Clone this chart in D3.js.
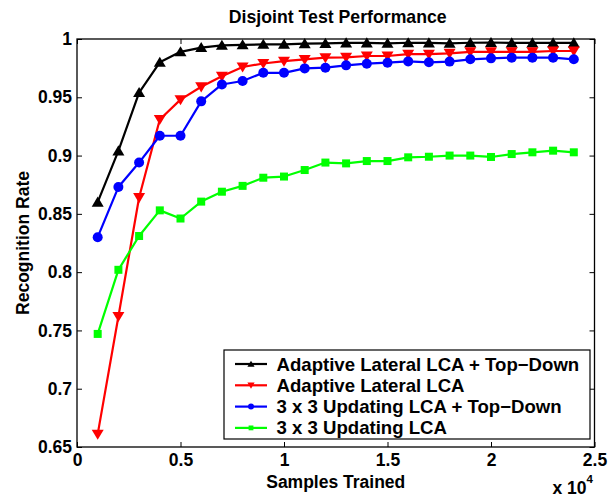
<!DOCTYPE html>
<html>
<head>
<meta charset="utf-8">
<script src="https://cdn.jsdelivr.net/npm/d3@7"></script>
<style>
  html, body { margin: 0; padding: 0; background: #fff; }
  svg { display: block; }
  text { font-family: "Liberation Sans", Arial, Helvetica, sans-serif; font-weight: bold; fill: #000; }
</style>
</head>
<body>
<svg id="chart" width="616" height="497"></svg>
<script>
// ---- data (x in units of 10^4 samples) ----
const samples = [0.1,0.2,0.3,0.4,0.5,0.6,0.7,0.8,0.9,1.0,1.1,1.2,1.3,1.4,1.5,1.6,1.7,1.8,1.9,2.0,2.1,2.2,2.3,2.4];
const lateralTopDown = [0.860,0.904,0.954,0.980,0.989,0.9926,0.9946,0.995,0.9954,0.9954,0.9960,0.9962,0.9966,0.9966,0.9963,0.9968,0.9966,0.9963,0.9968,0.9970,0.9966,0.9966,0.9968,0.9966];
const lateral = [0.661,0.762,0.864,0.931,0.948,0.959,0.968,0.976,0.979,0.981,0.9825,0.984,0.9843,0.9854,0.9854,0.987,0.987,0.9877,0.989,0.989,0.989,0.989,0.9897,0.9897];
const updTopDown = [0.830,0.873,0.894,0.917,0.917,0.9465,0.961,0.964,0.971,0.971,0.9748,0.9754,0.9774,0.9788,0.9797,0.9808,0.980,0.9806,0.9826,0.9834,0.984,0.984,0.984,0.9826];
const updating = [0.747,0.802,0.831,0.853,0.846,0.8605,0.869,0.874,0.881,0.882,0.8876,0.894,0.8933,0.8953,0.8953,0.8985,0.899,0.900,0.900,0.8988,0.9013,0.9028,0.9042,0.9028];
const seriesNames = ["Adaptive Lateral LCA + Top\u2212Down","Adaptive Lateral LCA","3 x 3 Updating LCA + Top\u2212Down","3 x 3 Updating LCA"];
const xTicks = [0,0.5,1,1.5,2,2.5];
const yTicks = [0.65,0.7,0.75,0.8,0.85,0.9,0.95,1];
const yTickLabels = ["0.65","0.7","0.75","0.8","0.85","0.9","0.95","1"];
const xTickLabels = ["0","0.5","1","1.5","2","2.5"];
const titleText = "Disjoint Test Performance";
const xLabel = "Samples Trained";
const yLabel = "Recognition Rate";

const series = [
  {name: seriesNames[0], values: lateralTopDown, color: "#000000", symbol: "triangleUp"},
  {name: seriesNames[1], values: lateral, color: "#ff0000", symbol: "triangleDown"},
  {name: seriesNames[2], values: updTopDown, color: "#0000ff", symbol: "circle"},
  {name: seriesNames[3], values: updating, color: "#00ff00", symbol: "square"}
];

const W = 616, H = 497;
const m = {left: 77, right: 21.5, top: 39, bottom: 50};
const svg = d3.select("#chart");

const x = d3.scaleLinear().domain([0, 2.5]).range([m.left, W - m.right]);
const y = d3.scaleLinear().domain([0.65, 1]).range([H - m.bottom, m.top]);

function marker(g, sym, cx, cy, color, s) {
  if (sym === "circle") {
    g.append("circle").attr("cx", cx).attr("cy", cy).attr("r", 5 * s).attr("fill", color);
  } else if (sym === "square") {
    const a = 8 * s;
    g.append("rect").attr("x", cx - a/2).attr("y", cy - a/2).attr("width", a).attr("height", a).attr("fill", color);
  } else if (sym === "triangleUp") {
    const w = 6 * s, h = 5.6 * s;
    g.append("path").attr("d", `M${cx},${cy - h}L${cx + w},${cy + h*0.8}L${cx - w},${cy + h*0.8}Z`).attr("fill", color);
  } else {
    const w = 6 * s, h = 5.6 * s;
    g.append("path").attr("d", `M${cx},${cy + h}L${cx + w},${cy - h*0.8}L${cx - w},${cy - h*0.8}Z`).attr("fill", color);
  }
}

// axes (ticks inward on all four sides)
const tickLen = 5;
const axB = svg.append("g").attr("transform", `translate(0,${H - m.bottom})`)
  .call(d3.axisBottom(x).tickValues(xTicks).tickFormat((d,i) => xTickLabels[i]).tickSizeInner(-tickLen).tickSizeOuter(0).tickPadding(7));
const axT = svg.append("g").attr("transform", `translate(0,${m.top})`)
  .call(d3.axisTop(x).tickValues(xTicks).tickFormat("").tickSizeInner(-tickLen).tickSizeOuter(0));
const axL = svg.append("g").attr("transform", `translate(${m.left},0)`)
  .call(d3.axisLeft(y).tickValues(yTicks).tickFormat((d,i) => yTickLabels[i]).tickSizeInner(-tickLen).tickSizeOuter(0).tickPadding(5));
const axR = svg.append("g").attr("transform", `translate(${W - m.right},0)`)
  .call(d3.axisRight(y).tickValues(yTicks).tickFormat("").tickSizeInner(-tickLen).tickSizeOuter(0));
[axB, axT, axL, axR].forEach(a => {
  a.select(".domain").remove();
  a.selectAll("line").attr("stroke", "#000").attr("stroke-width", 1);
  a.selectAll("text").attr("font-size", 17.5).attr("font-family", null).attr("font-weight", "bold").attr("fill", "#000");
});

// plot data
const plot = svg.append("g");
const line = d3.line().x((d, i) => x(samples[i])).y(d => y(d));
series.forEach(s => {
  plot.append("path").datum(s.values).attr("d", line).attr("fill", "none")
    .attr("stroke", s.color).attr("stroke-width", 2.2).attr("stroke-linejoin", "round");
  s.values.forEach((v, i) => marker(plot, s.symbol, x(samples[i]), y(v), s.color, 1));
});

// box
svg.append("rect").attr("x", m.left).attr("y", m.top)
  .attr("width", W - m.left - m.right).attr("height", H - m.top - m.bottom)
  .attr("fill", "none").attr("stroke", "#000").attr("stroke-width", 1.3);

// title & labels
svg.append("text").attr("x", (m.left + W - m.right) / 2 + 2).attr("y", 23)
  .attr("text-anchor", "middle").attr("font-size", 17.7).text(titleText);
svg.append("text").attr("x", (m.left + W - m.right) / 2).attr("y", 488)
  .attr("text-anchor", "middle").attr("font-size", 17.5).text(xLabel);
svg.append("text").attr("transform", `translate(29,${(m.top + H - m.bottom) / 2}) rotate(-90)`)
  .attr("text-anchor", "middle").attr("font-size", 17.5).text(yLabel);
const exp = svg.append("text").attr("x", 552.5).attr("y", 494).attr("font-size", 17.5);
exp.append("tspan").text("x 10");
exp.append("tspan").attr("font-size", 11.5).attr("dy", -11).text("4");

// legend
const lg = svg.append("g");
lg.append("rect").attr("x", 224).attr("y", 350).attr("width", 366).attr("height", 89)
  .attr("fill", "#fff").attr("stroke", "#000").attr("stroke-width", 1.2);
series.forEach((s, i) => {
  const cy = 364 + i * 21.3;
  lg.append("line").attr("x1", 235).attr("x2", 267).attr("y1", cy).attr("y2", cy)
    .attr("stroke", s.color).attr("stroke-width", 2.2);
  marker(lg, s.symbol, 251, cy, s.color, 0.6);
  lg.append("text").attr("x", 276.5).attr("y", cy + 6.5).attr("font-size", 18.6).text(s.name);
});
</script>
</body>
</html>
